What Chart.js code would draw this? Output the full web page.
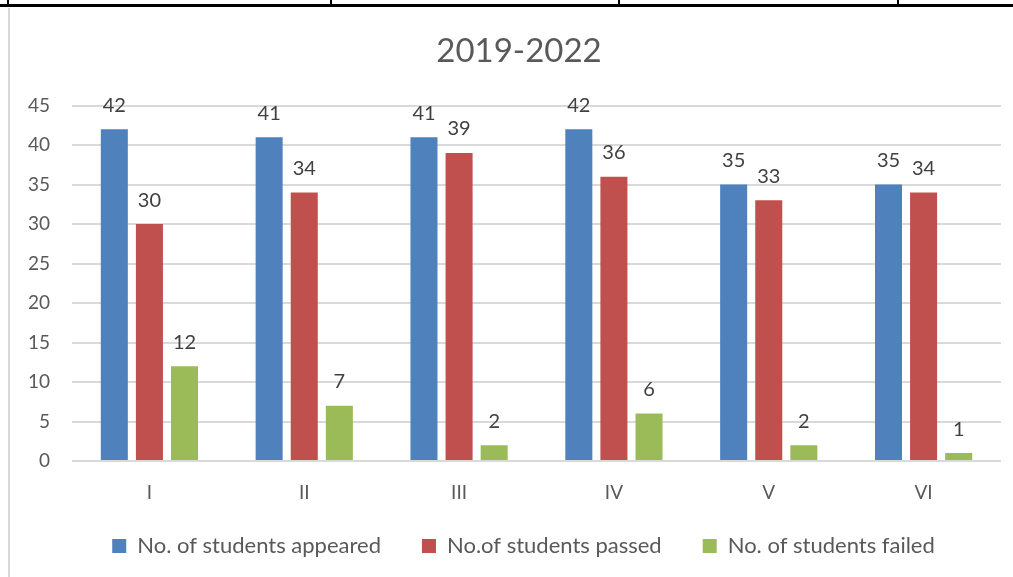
<!DOCTYPE html>
<html>
<head>
<meta charset="utf-8">
<script src="https://cdn.jsdelivr.net/npm/chart.js@4"></script>
<style>
  html, body { margin: 0; padding: 0; background: #fff; }
  #wrap { position: relative; width: 1013px; height: 577px; overflow: hidden; }
  #wrap canvas { position: absolute; left: 0; top: 0; }
  .tline { position: absolute; background: #000; }
  .gline { position: absolute; background: #d9d9d9; }
</style>
</head>
<body>
<div id="wrap">
  <canvas id="chart" width="1013" height="577"></canvas>
  <!-- table borders around the picture -->
  <div class="tline" style="left:0;top:4px;width:1013px;height:3px"></div>
  <div class="tline" style="left:7px;top:0;width:2px;height:6px"></div>
  <div class="tline" style="left:330px;top:0;width:2px;height:6px"></div>
  <div class="tline" style="left:618px;top:0;width:2px;height:6px"></div>
  <div class="tline" style="left:897px;top:0;width:2px;height:6px"></div>
  <div class="gline" style="left:8px;top:8px;width:2px;height:569px"></div>
</div>
<script>
const categories = ['I', 'II', 'III', 'IV', 'V', 'VI'];
const appeared = [42, 41, 41, 42, 35, 35];
const passed = [30, 34, 39, 36, 33, 34];
const failed = [12, 7, 2, 6, 2, 1];
const yTicks = [0, 5, 10, 15, 20, 25, 30, 35, 40, 45];

const font = "Lato, 'Open Sans', sans-serif";
const textColor = '#595959';

// values drawn above each bar
const barLabels = {
  id: 'barLabels',
  afterDatasetsDraw(chart) {
    const ctx = chart.ctx;
    ctx.save();
    ctx.font = '20px ' + font;
    ctx.fillStyle = '#404040';
    ctx.textAlign = 'center';
    ctx.textBaseline = 'middle';
    chart.data.datasets.forEach((ds, di) => {
      const meta = chart.getDatasetMeta(di);
      meta.data.forEach((bar, i) => {
        ctx.fillText(ds.data[i], bar.x, bar.y - 24);
      });
    });
    ctx.restore();
  }
};

// the original chart object runs past the right edge, so title and legend
// sit right of the canvas centre; legend padding is wide, pull it up a bit
const nudge = {
  id: 'nudge',
  afterLayout(chart) {
    chart.titleBlock.left += 37;
    chart.legend.left += 46;
    chart.legend.top -= 10;
    chart.legend.bottom -= 10;
  }
};

new Chart(document.getElementById('chart'), {
  type: 'bar',
  data: {
    labels: categories,
    datasets: [
      { label: 'No. of students appeared', data: appeared, backgroundColor: '#4f81bd' },
      { label: 'No.of students passed', data: passed, backgroundColor: '#c0504d' },
      { label: 'No. of students failed', data: failed, backgroundColor: '#9bbb59' }
    ]
  },
  options: {
    responsive: false,
    animation: false,
    categoryPercentage: 0.68,
    barPercentage: 0.77,
    layout: { padding: { left: 0, right: 12, top: 14, bottom: 0 } },
    plugins: {
      tooltip: { enabled: false },
      title: {
        display: true,
        text: '2019-2022',
        color: textColor,
        font: { family: font, size: 33, weight: 'normal' },
        padding: { top: 18, bottom: 34 }
      },
      legend: {
        position: 'bottom',
        maxHeight: 74,
        labels: {
          color: textColor,
          font: { family: font, size: 22 },
          boxWidth: 14,
          boxHeight: 14,
          padding: 41
        }
      }
    },
    scales: {
      x: {
        afterFit(scale) { scale.height = 43; },
        grid: { display: false, drawTicks: false },
        border: { display: false },
        ticks: { color: textColor, font: { family: font, size: 19 }, padding: 20 }
      },
      y: {
        min: 0,
        max: 45,
        afterFit(scale) { scale.width = 72; },
        afterBuildTicks(scale) { scale.ticks = yTicks.map(v => ({ value: v })); },
        grid: { color: '#d9d9d9', lineWidth: 2, drawTicks: false },
        border: { display: false },
        ticks: { color: textColor, font: { family: font, size: 19 }, padding: 22 }
      }
    }
  },
  plugins: [barLabels, nudge]
});
</script>
</body>
</html>
